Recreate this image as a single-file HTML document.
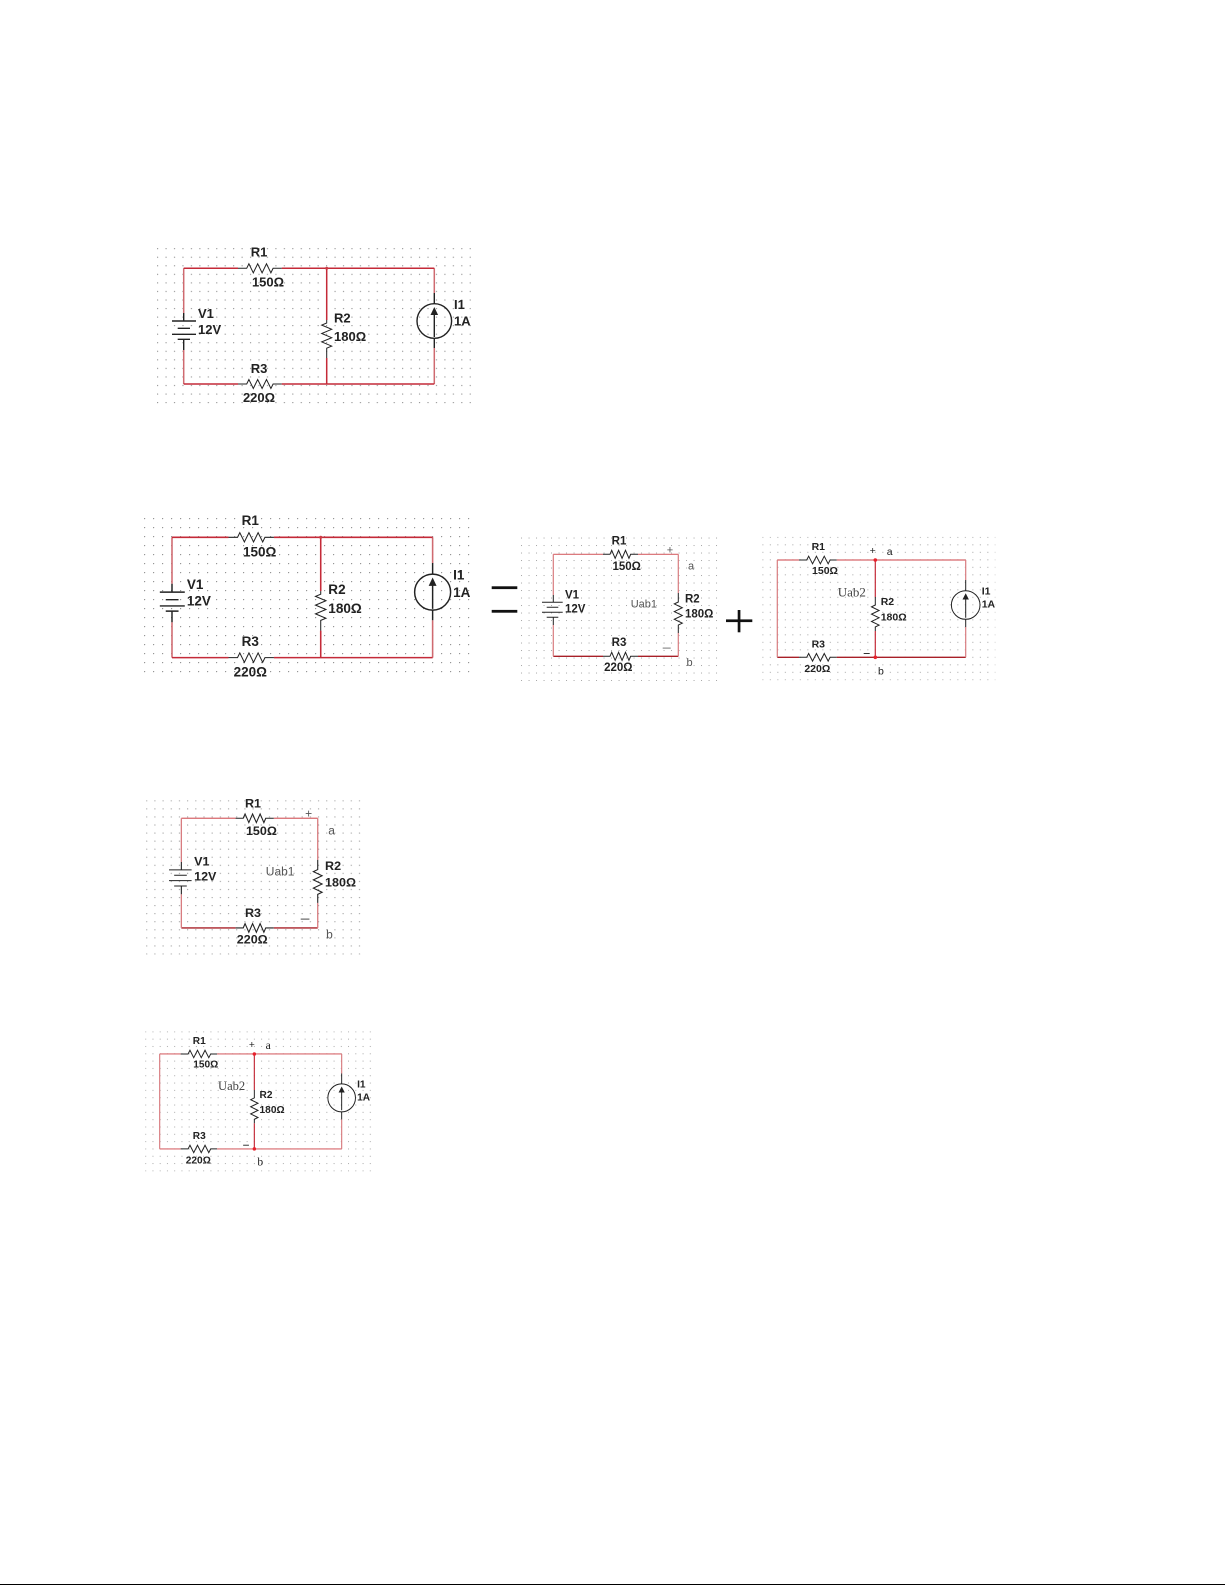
<!DOCTYPE html>
<html><head><meta charset="utf-8"><style>
html,body{margin:0;padding:0;background:#fff;width:1225px;height:1585px;overflow:hidden}
svg{position:absolute;left:0;top:0;display:block}
text{font-family:"Liberation Sans",sans-serif;fill:#222}
.b{font-weight:bold}
.m{text-anchor:middle}
.w{fill:none;stroke:#c42a38;stroke-width:1.5}
.v{fill:none;stroke:#cf6a70;stroke-width:1.5}
.lt{fill:none;stroke:#d8686c;stroke-width:1.2}
.dk{fill:none;stroke:#a82028;stroke-width:1.3}
.lv{fill:none;stroke:#d87c80;stroke-width:1.2}
.k{fill:none;stroke:#222;stroke-width:1}
.l{fill:none;stroke:#222;stroke-width:1.4}
.a{font-size:13px}.s{font-size:11.5px}.t{font-size:10.5px}
.sf{font-family:"Liberation Serif",serif;font-size:13px;fill:#444}
.sa{font-size:11px;fill:#555}
</style></head><body>
<svg width="1225" height="1585" viewBox="0 0 1225 1585" xmlns="http://www.w3.org/2000/svg">
<defs>
<pattern id="pa" x="157" y="248.1" width="8.45" height="8.55" patternUnits="userSpaceOnUse"><circle cx=".6" cy=".6" r=".6" fill="#888"/></pattern>
<pattern id="pb" x="144" y="518" width="9" height="9" patternUnits="userSpaceOnUse"><circle cx=".6" cy=".6" r=".6" fill="#888"/></pattern>
<pattern id="pc" x="521" y="537.5" width="7.5" height="7.5" patternUnits="userSpaceOnUse"><circle cx=".55" cy=".55" r=".55" fill="#999"/></pattern>
<pattern id="pd" x="762.3" y="536.8" width="7.5" height="7.5" patternUnits="userSpaceOnUse"><circle cx=".55" cy=".55" r=".55" fill="#999"/></pattern>
</defs>
<rect width="1225" height="1585" fill="#fff"/>

<!-- Circuit A -->
<rect x="157" y="248" width="314" height="156" fill="url(#pa)"/>
<g>
<path class="v" d="M183.7 268.3V313M183.7 350V384M434.3 268.3V293M434.3 348V384"/>
<path class="w" d="M238 268.3H183.7M183.7 384H238M281.7 268.3H434.3M434.3 384H281.7M326.7 268.3V320M326.7 358V384"/>
<circle cx="326.7" cy="268.3" r="1.5" fill="#cc3a44"/>
<path class="k" d="M238 268.3H246.7l2.2 -4.5l4.4 9l4.4 -9l4.4 9l4.4 -9l4.4 9l2.2 -4.5H281.7"/>
<path class="k" d="M238 384H246.7l2.2 -4.5l4.4 9l4.4 -9l4.4 9l4.4 -9l4.4 9l2.2 -4.5H281.7"/>
<path class="k" d="M326.7 320V323l-5 2.1l10 4.2l-10 4.2l10 4.2l-10 4.2l10 4.2l-5 2.1V358"/>
<path class="l" d="M183.7 313V321M172 321H196M177.7 328.3H190M172 334.3H196M177.7 339.3H190M183.7 339.3V350"/>
<circle class="l" cx="434.3" cy="321" r="17.3"/>
<path class="l" d="M434.3 293V303.7M434.3 338.3V348M434.3 337V312"/>
<path d="M434.3 307L430.5 315H438.1Z" fill="#222"/>
<text class="b a m" x="259" y="256.7">R1</text>
<text class="b a m" x="268" y="286.7">150Ω</text>
<text class="b a" x="198" y="318">V1</text>
<text class="b a" x="198" y="334">12V</text>
<text class="b a" x="334" y="322.7">R2</text>
<text class="b a" x="334" y="341">180Ω</text>
<text class="b a" x="454" y="309">I1</text>
<text class="b a" x="454" y="325.7">1A</text>
<text class="b a m" x="259" y="373">R3</text>
<text class="b a m" x="259" y="402">220Ω</text>
</g>

<!-- Circuit B -->
<rect x="144" y="518" width="326" height="161" fill="url(#pb)"/>
<g transform="matrix(1.04 0 0 1.04 -19.05 258.27)">
<path class="v" d="M183.7 268.3V313M183.7 350V384M434.3 268.3V293M434.3 348V384"/>
<path class="w" d="M238 268.3H183.7M183.7 384H238M281.7 268.3H434.3M434.3 384H281.7M326.7 268.3V320M326.7 358V384"/>
<circle cx="326.7" cy="268.3" r="1.5" fill="#cc3a44"/>
<path class="k" d="M238 268.3H246.7l2.2 -4.5l4.4 9l4.4 -9l4.4 9l4.4 -9l4.4 9l2.2 -4.5H281.7"/>
<path class="k" d="M238 384H246.7l2.2 -4.5l4.4 9l4.4 -9l4.4 9l4.4 -9l4.4 9l2.2 -4.5H281.7"/>
<path class="k" d="M326.7 320V323l-5 2.1l10 4.2l-10 4.2l10 4.2l-10 4.2l10 4.2l-5 2.1V358"/>
<path class="l" d="M183.7 313V321M172 321H196M177.7 328.3H190M172 334.3H196M177.7 339.3H190M183.7 339.3V350"/>
<circle class="l" cx="434.3" cy="321" r="17.3"/>
<path class="l" d="M434.3 293V303.7M434.3 338.3V348M434.3 337V312"/>
<path d="M434.3 307L430.5 315H438.1Z" fill="#222"/>
<text class="b a m" x="259" y="256.7">R1</text>
<text class="b a m" x="268" y="286.7">150Ω</text>
<text class="b a" x="198" y="318">V1</text>
<text class="b a" x="198" y="334">12V</text>
<text class="b a" x="334" y="322.7">R2</text>
<text class="b a" x="334" y="341">180Ω</text>
<text class="b a" x="454" y="309">I1</text>
<text class="b a" x="454" y="325.7">1A</text>
<text class="b a m" x="259" y="373">R3</text>
<text class="b a m" x="259" y="402">220Ω</text>
</g>

<!-- equals -->
<rect x="491.7" y="586.3" width="25.6" height="2.8" fill="#111"/>
<rect x="491.7" y="609.9" width="25.6" height="2.8" fill="#111"/>
<!-- plus -->
<rect x="726" y="619.4" width="26.3" height="2.7" fill="#111"/>
<rect x="737.7" y="610" width="2.7" height="22.3" fill="#111"/>

<!-- Circuit C1 -->
<rect x="521" y="537.5" width="197" height="143.5" fill="url(#pc)"/>
<g>
<path class="lt" d="M603 554.3H553.3M638 554.3H678.3"/>
<path class="dk" d="M553.3 656.3H603M638 656.3H678.3"/>
<path class="lv" d="M553.3 554.3V595M553.3 625V656.3M678.3 554.3V593M678.3 633V656.3"/>
<path class="k" d="M603 554.3H610l1.7 -4l3.45 8l3.45 -8l3.45 8l3.45 -8l3.45 8l1.7 -4H638"/>
<path class="k" d="M603 656.3H610l1.7 -4l3.45 8l3.45 -8l3.45 8l3.45 -8l3.45 8l1.7 -4H638"/>
<path class="k" d="M678.3 593V602l-4 1.9l8 3.85l-8 3.85l8 3.85l-8 3.85l8 3.85l-4 1.9V633"/>
<path class="k" d="M553.3 595V602.3M542 602.3H562.7M546.7 607.3H558.3M542 612.3H562.7M546.7 617.3H558.3M553.3 617.3V625"/>
<text class="b s m" x="619" y="544.3">R1</text>
<text class="b s m" x="626.7" y="570">150Ω</text>
<text class="b s" x="565" y="598.3">V1</text>
<text class="b s" x="565" y="612.3">12V</text>
<text class="b s" x="685" y="602.3">R2</text>
<text class="b s" x="685" y="617.7">180Ω</text>
<text class="b s m" x="619" y="646">R3</text>
<text class="b s m" x="618.3" y="671">220Ω</text>
<text class="sa" x="630.7" y="607.7">Uab1</text>
<text class="sa m" x="670" y="553.5">+</text>
<text class="sa" x="688" y="569.3">a</text>
<text class="sa" x="686.5" y="666">b</text>
<rect x="662.7" y="647.6" width="8" height="1" fill="#777"/>
</g>

<!-- Circuit D1 -->
<rect x="762.3" y="536.8" width="233" height="143.5" fill="url(#pd)"/>
<g>
<path class="lt" d="M799 560H777.3M836.7 560H965.7"/>
<path class="dk" d="M777.3 657.3H799M836.7 657.3H965.7"/>
<path class="lv" d="M777.3 560V657.3M965.7 560V580M965.7 627V657.3"/>
<path class="w" style="stroke-width:1.2" d="M875.3 560V597M875.3 631V657.3"/>
<circle cx="875.3" cy="560" r="1.8" fill="#e8212c"/>
<circle cx="875.3" cy="657.3" r="1.8" fill="#e8212c"/>
<path class="k" d="M799 560H806.7l1.95 -3.8l3.9 7.6l3.9 -7.6l3.9 7.6l3.9 -7.6l3.9 7.6l1.95 -3.8H836.7"/>
<path class="k" d="M799 657.3H806.7l1.95 -3.8l3.9 7.6l3.9 -7.6l3.9 7.6l3.9 -7.6l3.9 7.6l1.95 -3.8H836.7"/>
<path class="k" d="M875.3 597V605l-3.8 1.85l7.6 3.65l-7.6 3.65l7.6 3.65l-7.6 3.65l7.6 3.65l-3.8 1.85V631"/>
<circle class="k" cx="965.7" cy="605" r="14.3"/>
<path class="k" d="M965.7 580V590.7M965.7 619.3V627M965.7 617.7V597"/>
<path d="M965.7 593.3L962.5 599.5H968.9Z" fill="#222"/>
<text class="b t m" x="818.3" y="550">R1</text>
<text class="b t m" x="825" y="574">150Ω</text>
<text class="b t" x="880.7" y="605">R2</text>
<text class="b t" x="880.7" y="620.3">180Ω</text>
<text class="b t" x="981.7" y="594.3">I1</text>
<text class="b t" x="981.7" y="607.7">1A</text>
<text class="b t m" x="818.3" y="647.3">R3</text>
<text class="b t m" x="817.3" y="672">220Ω</text>
<text class="sf" x="837.7" y="596.7">Uab2</text>
<text class="m" style="font-size:10.5px" x="872.7" y="554">+</text>
<text style="font-size:10.5px" x="886.7" y="555">a</text>
<text style="font-size:10.5px" x="878" y="674.3">b</text>
<rect x="863.7" y="653" width="6" height="1" fill="#333"/>
</g>

<!-- Circuit C2 -->
<g transform="matrix(1.091 0 0 1.075 -422.3 222.4)">
<rect x="521" y="537.5" width="197" height="143.5" fill="url(#pc)"/>
<path class="lt" d="M603 554.3H553.3M638 554.3H678.3"/>
<path class="dk" d="M553.3 656.3H603M638 656.3H678.3"/>
<path class="lv" d="M553.3 554.3V595M553.3 625V656.3M678.3 554.3V593M678.3 633V656.3"/>
<path class="k" d="M603 554.3H610l1.7 -4l3.45 8l3.45 -8l3.45 8l3.45 -8l3.45 8l1.7 -4H638"/>
<path class="k" d="M603 656.3H610l1.7 -4l3.45 8l3.45 -8l3.45 8l3.45 -8l3.45 8l1.7 -4H638"/>
<path class="k" d="M678.3 593V602l-4 1.9l8 3.85l-8 3.85l8 3.85l-8 3.85l8 3.85l-4 1.9V633"/>
<path class="k" d="M553.3 595V602.3M542 602.3H562.7M546.7 607.3H558.3M542 612.3H562.7M546.7 617.3H558.3M553.3 617.3V625"/>
<text class="b s m" x="619" y="544.3">R1</text>
<text class="b s m" x="626.7" y="570">150Ω</text>
<text class="b s" x="565" y="598.3">V1</text>
<text class="b s" x="565" y="612.3">12V</text>
<text class="b s" x="685" y="602.3">R2</text>
<text class="b s" x="685" y="617.7">180Ω</text>
<text class="b s m" x="619" y="646">R3</text>
<text class="b s m" x="618.3" y="671">220Ω</text>
<text class="sa" x="630.7" y="607.7">Uab1</text>
<text class="sa m" x="670" y="553.5">+</text>
<text class="sa" x="688" y="569.3">a</text>
<text class="sa" x="686" y="666">b</text>
<rect x="662.7" y="647.6" width="8" height="1" fill="#555"/>
</g>

<!-- Circuit D2 -->
<g transform="matrix(.966 0 0 .976 -591.2 507.4)">
<rect x="762.3" y="536.8" width="235" height="143.5" fill="url(#pd)"/>
<path class="lt" d="M799 560H777.3M836.7 560H965.7"/>
<path class="lt" d="M777.3 657.3H799M836.7 657.3H965.7"/>
<path class="lv" d="M777.3 560V657.3M965.7 560V580M965.7 627V657.3"/>
<path class="w" style="stroke-width:1.2" d="M875.3 560V597M875.3 631V657.3"/>
<circle cx="875.3" cy="560" r="1.8" fill="#e8212c"/>
<circle cx="875.3" cy="657.3" r="1.8" fill="#e8212c"/>
<path class="k" d="M799 560H806.7l1.95 -3.8l3.9 7.6l3.9 -7.6l3.9 7.6l3.9 -7.6l3.9 7.6l1.95 -3.8H836.7"/>
<path class="k" d="M799 657.3H806.7l1.95 -3.8l3.9 7.6l3.9 -7.6l3.9 7.6l3.9 -7.6l3.9 7.6l1.95 -3.8H836.7"/>
<path class="k" d="M875.3 597V605l-3.8 1.85l7.6 3.65l-7.6 3.65l7.6 3.65l-7.6 3.65l7.6 3.65l-3.8 1.85V631"/>
<circle class="k" cx="965.7" cy="605" r="14.3"/>
<path class="k" d="M965.7 580V590.7M965.7 619.3V627M965.7 617.7V597"/>
<path d="M965.7 593.3L962.5 599.5H968.9Z" fill="#222"/>
<text class="b t m" x="818.3" y="550">R1</text>
<text class="b t m" x="825" y="574">150Ω</text>
<text class="b t" x="880.7" y="605">R2</text>
<text class="b t" x="880.7" y="620.3">180Ω</text>
<text class="b t" x="981.7" y="594.3">I1</text>
<text class="b t" x="981.7" y="607.7">1A</text>
<text class="b t m" x="818.3" y="647.3">R3</text>
<text class="b t m" x="817.3" y="672">220Ω</text>
<text class="sf" x="837.7" y="596.7">Uab2</text>
<text class="m" style="font-size:10.5px" x="872.7" y="554">+</text>
<text style="font-family:'Liberation Serif',serif;font-size:12px" x="887" y="555">a</text>
<text style="font-family:'Liberation Serif',serif;font-size:12px" x="878.5" y="674.3">b</text>
<rect x="863.7" y="653" width="6" height="1" fill="#333"/>
</g>

<!-- bottom rule -->
<rect x="0" y="1584" width="1225" height="1" fill="#000"/>
</svg>
</body></html>
